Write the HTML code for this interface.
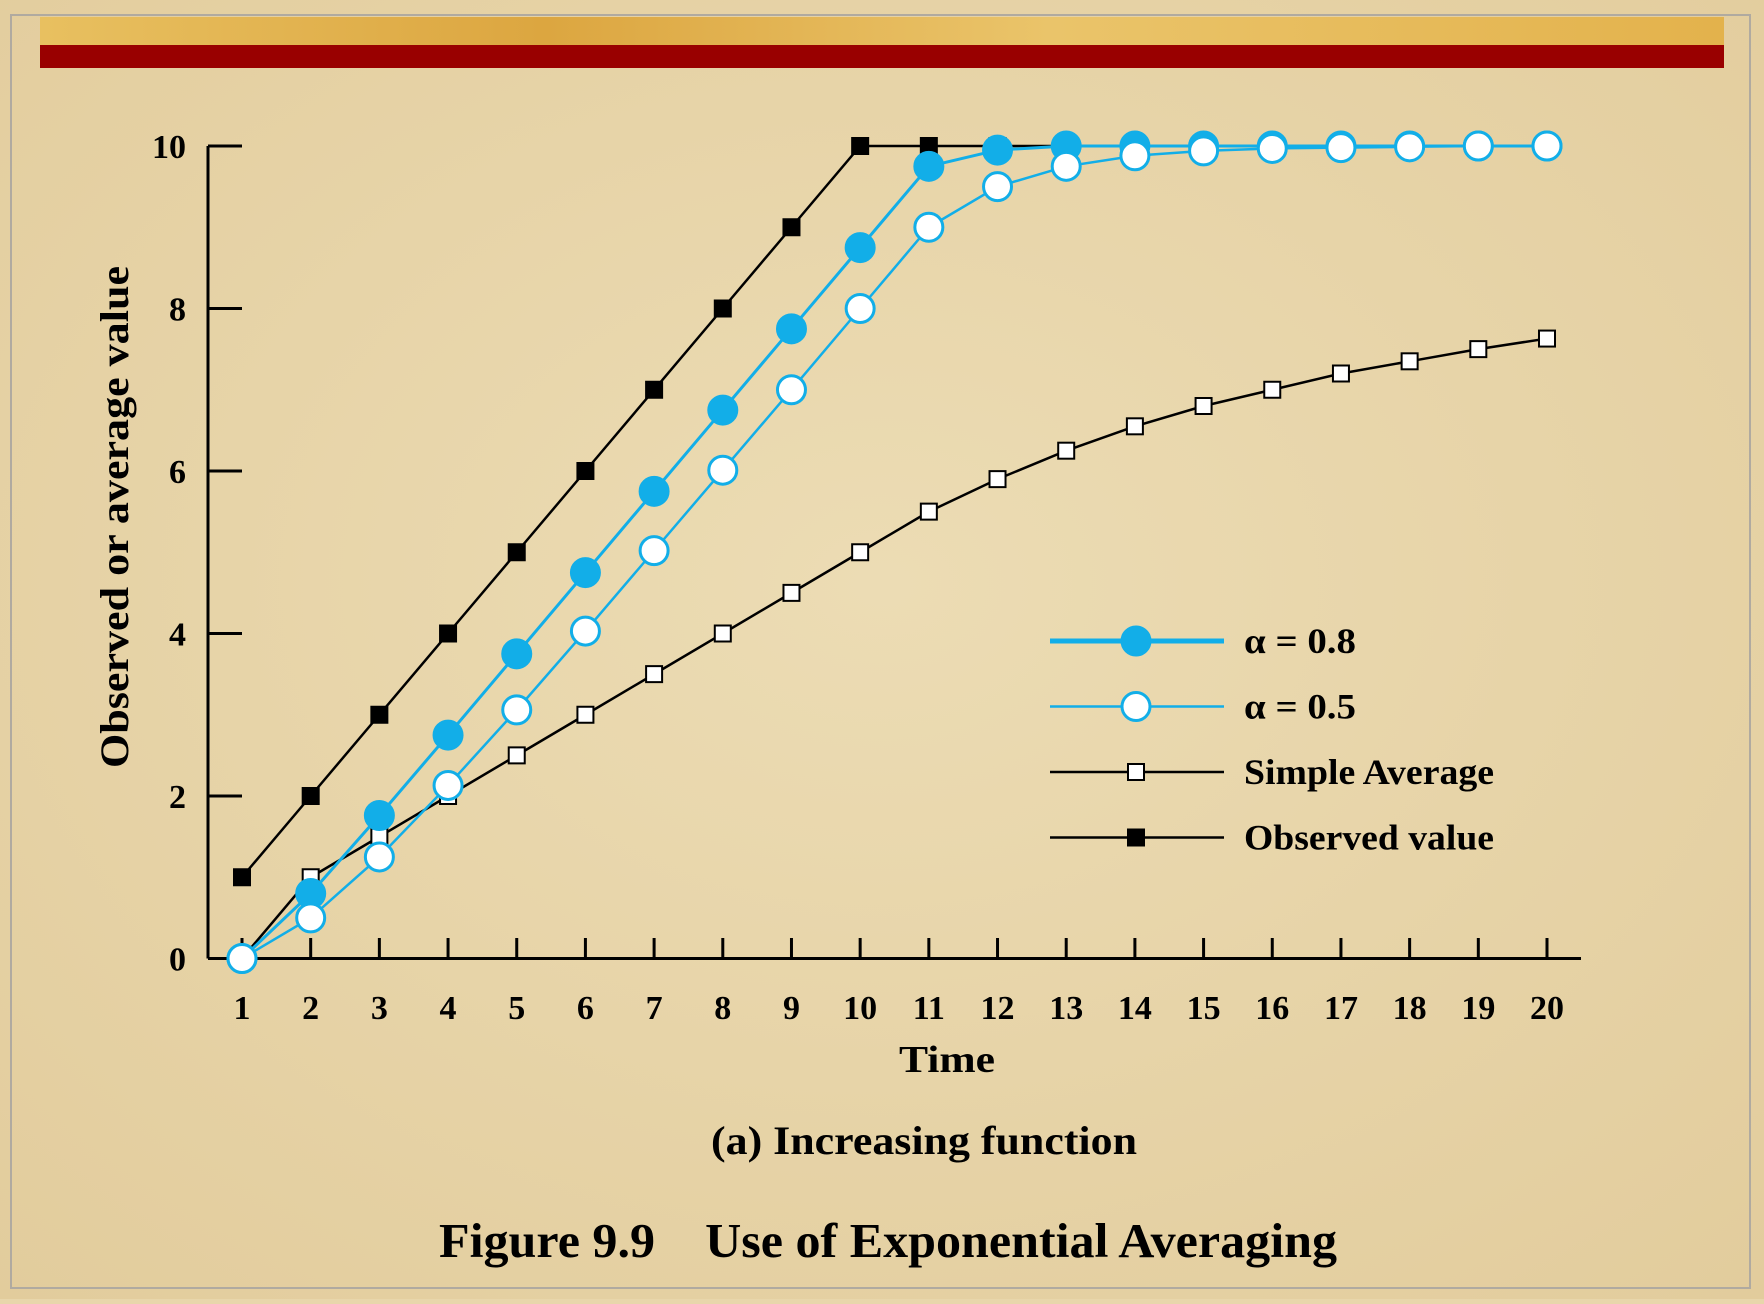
<!DOCTYPE html>
<html><head><meta charset="utf-8"><style>
html,body{margin:0;padding:0}
body{width:1764px;height:1299px;overflow:hidden;background:#e8d6ab;font-family:"Liberation Serif",serif}
</style></head><body>
<svg width="1764" height="1299" viewBox="0 0 1764 1299" id="svg" style="font-family:'Liberation Serif',serif;font-weight:bold">
<defs>
<radialGradient id="bg" cx="50%" cy="45%" r="75%"><stop offset="0" stop-color="#ecdcb4"/><stop offset="1" stop-color="#e2cc9c"/></radialGradient>
<linearGradient id="gold" x1="0" x2="1"><stop offset="0" stop-color="#e8c060"/><stop offset="0.3" stop-color="#dca640"/><stop offset="0.6" stop-color="#eac46a"/><stop offset="1" stop-color="#e3b24c"/></linearGradient>
</defs>
<rect width="1764" height="1299" fill="url(#bg)"/>
<rect x="11" y="15" width="1739" height="1273" fill="none" stroke="#b0aaa0" stroke-width="2"/>
<rect x="40" y="17" width="1684" height="29" fill="url(#gold)"/>
<rect x="40" y="45" width="1684" height="23" fill="#990000"/>
<g id="plot"></g>
<text x="128" y="517" transform="rotate(-90 128 517)" text-anchor="middle" font-size="40" textLength="502" lengthAdjust="spacingAndGlyphs" fill="#000">Observed or average value</text>
<text x="947" y="1072" text-anchor="middle" font-size="38" textLength="96" lengthAdjust="spacingAndGlyphs" fill="#000">Time</text>
<text x="924" y="1154" text-anchor="middle" font-size="40" textLength="426" lengthAdjust="spacingAndGlyphs" fill="#000">(a) Increasing function</text>
<text x="439" y="1257" font-size="49" textLength="898" lengthAdjust="spacingAndGlyphs" fill="#000" xml:space="preserve">Figure 9.9    Use of Exponential Averaging</text>
</svg>
<script>
const times=[1,2,3,4,5,6,7,8,9,10,11,12,13,14,15,16,17,18,19,20];
const observed=[1,2,3,4,5,6,7,8,9,10,10,10,10,10,10,10,10,10,10,10];
const simpleAvg=[0,1,1.5,2,2.5,3,3.5,4,4.5,5,5.5,5.9,6.25,6.55,6.8,7,7.2,7.35,7.5,7.63];
const alpha08=[0,0.8,1.76,2.75,3.75,4.75,5.75,6.75,7.75,8.75,9.75,9.95,10,10,10,10,10,10,10,10];
const alpha05=[0,0.5,1.25,2.13,3.06,4.03,5.02,6.01,7,8,9,9.5,9.75,9.88,9.94,9.97,9.98,9.99,10,10];
const yTicks=[0,2,4,6,8,10];
const ns="http://www.w3.org/2000/svg";
const g=document.getElementById('plot');
const X=t=>242+(t-1)*(1547-242)/19;
const Y=v=>958.5-v*(958.5-146)/10;
function mk(tag,a){const e=document.createElementNS(ns,tag);for(const k in a)e.setAttribute(k,a[k]);g.appendChild(e);return e;}
let e=mk('line',{x1:208,y1:958.5,x2:1581,y2:958.5,stroke:'#000','stroke-width':3});


e=mk('line',{x1:208,y1:146,x2:208,y2:958.5,stroke:'#000','stroke-width':3});


yTicks.forEach(v=>{
 let l=mk('line',{x1:208,y1:Y(v),x2:242,y2:Y(v),stroke:'#000','stroke-width':3});
 
 
 let t=mk('text',{x:186,y:Y(v)+12,'text-anchor':'end','font-size':34});t.textContent=v;
 
 
});
times.forEach(tm=>{
 let l=mk('line',{x1:X(tm),y1:938,x2:X(tm),y2:958.5,stroke:'#000','stroke-width':3});
 
 
 let t=mk('text',{x:X(tm),y:1019,'text-anchor':'middle','font-size':34});t.textContent=tm;
 
 
});
function series(vals,color,w,marker,fill,name){
 const p=mk('polyline',{points:vals.map((v,i)=>X(times[i])+','+Y(v)).join(' '),fill:'none',stroke:color,'stroke-width':w});
 
 
 vals.forEach((v,i)=>{
  let m;
  if(marker==='c')m=mk('circle',{cx:X(times[i]),cy:Y(v),r:14,fill:fill,stroke:'#12aee8','stroke-width':3});
  else m=mk('rect',{x:X(times[i])-8,y:Y(v)-8,width:16,height:16,fill:fill,stroke:'#000','stroke-width':2});
  
  
 });
}
series(simpleAvg,'#000',2.5,'s','#fff','simple-average');
series(observed,'#000',2.5,'s','#000','observed');
series(alpha08,'#12aee8',3,'c','#12aee8','alpha-08');
series(alpha05,'#12aee8',2.5,'c','#fff','alpha-05');
const legend=[['α = 0.8','#12aee8',5,'c','#12aee8',112],['α = 0.5','#12aee8',2.5,'c','#fff',112],['Simple Average','#000',2.5,'s','#fff',250],['Observed value','#000',2.5,'s','#000',250]];
legend.forEach((L,i)=>{
 const y=641+i*65.5;
 let l=mk('line',{x1:1050,y1:y,x2:1224,y2:y,stroke:L[1],'stroke-width':L[2]});
 
 
 let m;
 if(L[3]==='c')m=mk('circle',{cx:1136,cy:y,r:14,fill:L[4],stroke:'#12aee8','stroke-width':3});
 else m=mk('rect',{x:1128,y:y-8,width:16,height:16,fill:L[4],stroke:'#000','stroke-width':2});
 
 
 let t=mk('text',{x:1244,y:y+12,'font-size':36,textLength:L[5],lengthAdjust:'spacingAndGlyphs'});t.textContent=L[0];
 
 
});
</script>
</body></html>
